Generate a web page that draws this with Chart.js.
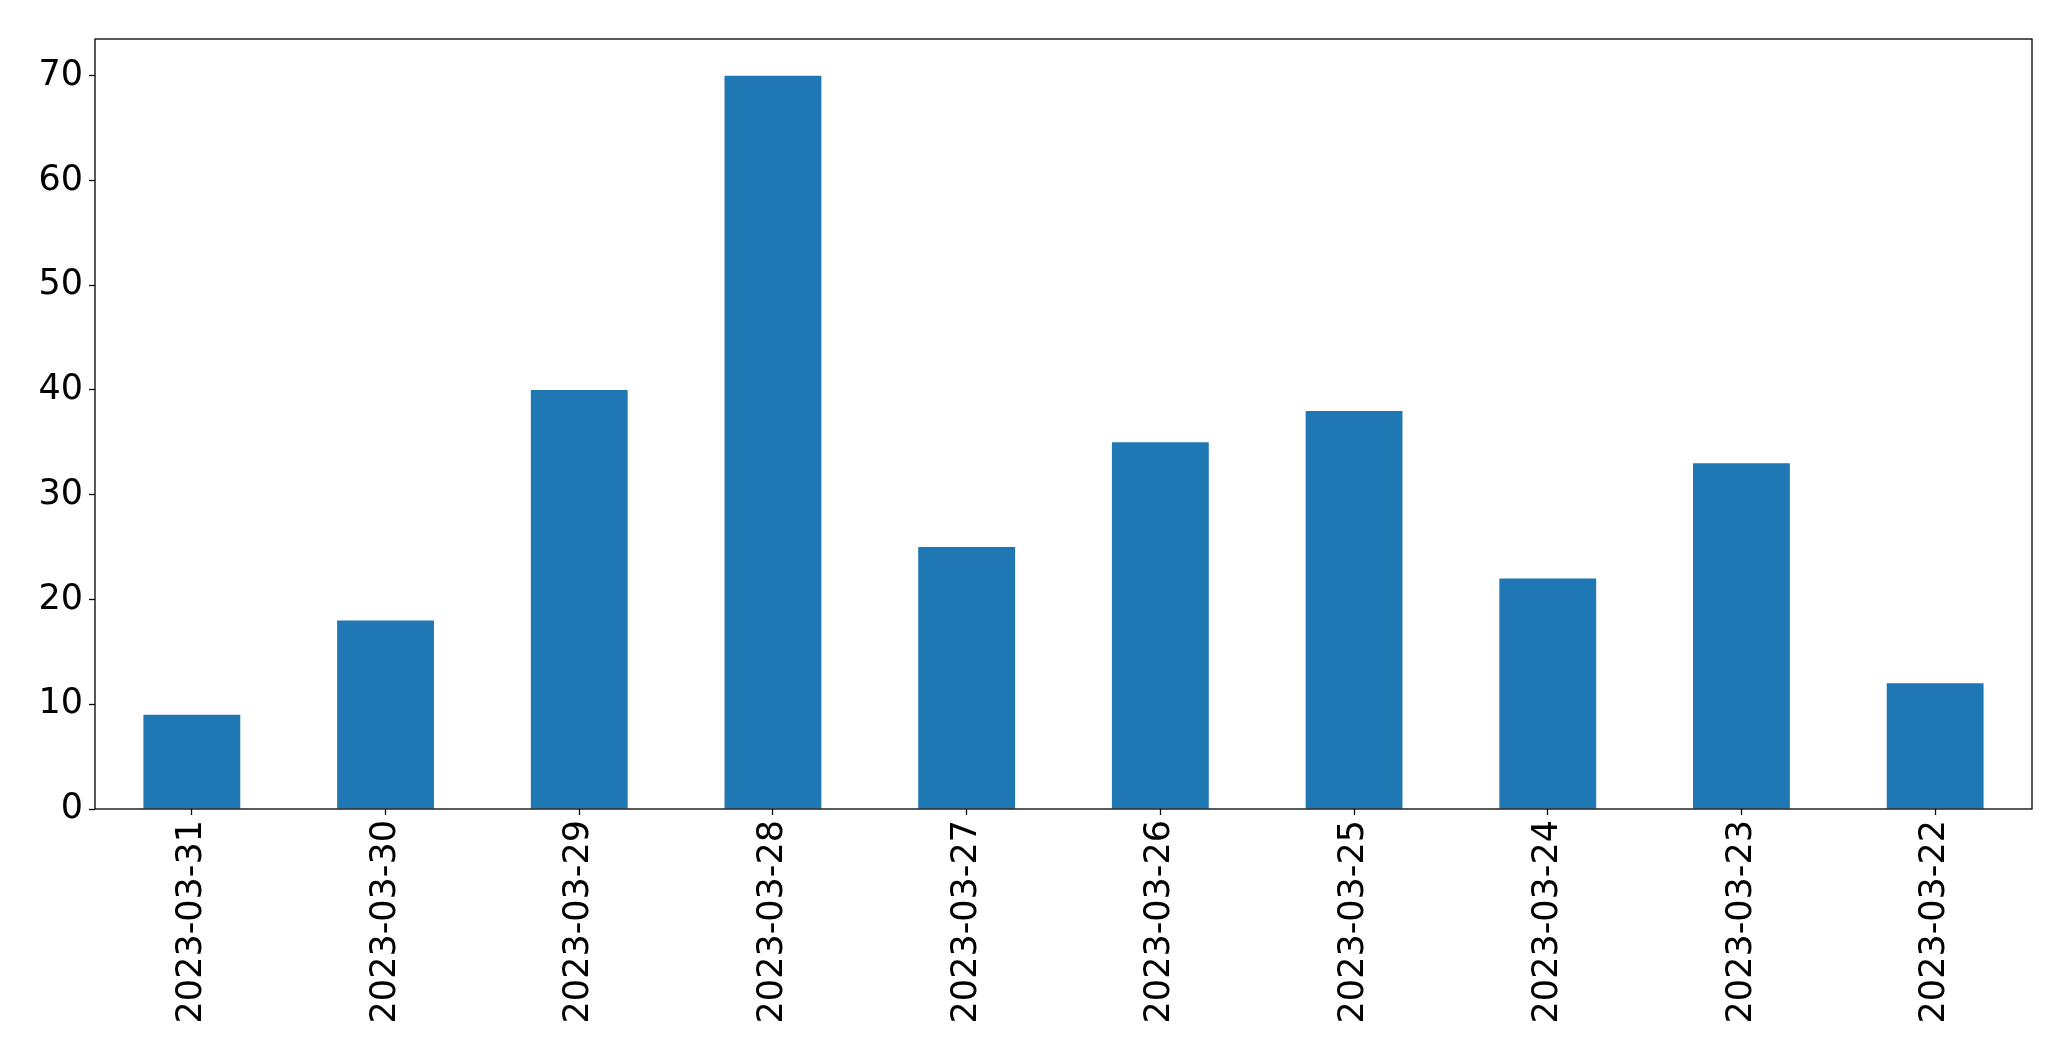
<!DOCTYPE html>
<html>
<head>
<meta charset="utf-8">
<script src="https://cdn.jsdelivr.net/npm/chart.js@4/dist/chart.umd.min.js"></script>
<style>
html,body{margin:0;padding:0;background:#fff;}
canvas{display:block;}
</style>
</head>
<body>
<canvas id="c" width="2071" height="1061"></canvas>
<script>
const categories = ["2023-03-31","2023-03-30","2023-03-29","2023-03-28","2023-03-27","2023-03-26","2023-03-25","2023-03-24","2023-03-23","2023-03-22"];
const values = [9, 18, 40, 70, 25, 35, 38, 22, 33, 12];
const yTicks = [0, 10, 20, 30, 40, 50, 60, 70];

const frame = {
  id: 'frame',
  afterDraw(chart) {
    const a = chart.chartArea, ctx = chart.ctx;
    ctx.save();
    ctx.strokeStyle = '#000';
    ctx.lineWidth = 1.3;
    ctx.strokeRect(a.left, a.top, a.right - a.left, a.bottom - a.top);
    ctx.restore();
  }
};

new Chart(document.getElementById('c'), {
  type: 'bar',
  data: {
    labels: categories,
    datasets: [{
      data: values,
      backgroundColor: '#1f77b4',
      borderWidth: 0,
      barPercentage: 0.5,
      categoryPercentage: 1.0
    }]
  },
  options: {
    responsive: false,
    devicePixelRatio: 1,
    animation: false,
    layout: { padding: { left: 0, top: 39, right: 39, bottom: 0 } },
    plugins: { legend: { display: false }, tooltip: { enabled: false } },
    scales: {
      x: {
        offset: true,
        grid: { offset: false, drawOnChartArea: false, drawTicks: true, tickLength: 6, tickColor: '#000', tickWidth: 1.3 },
        border: { display: false },
        ticks: {
          color: '#000',
          font: { family: 'DejaVu Sans', size: 35 },
          maxRotation: 90, minRotation: 90,
          padding: 5,
          autoSkip: false
        },
        afterFit(s) { s.height = 1061 - 809; }
      },
      y: {
        min: 0, max: 73.5,
        afterBuildTicks(s) { s.ticks = yTicks.map(v => ({ value: v })); },
        grid: { drawOnChartArea: false, drawTicks: true, tickLength: 6, tickColor: '#000', tickWidth: 1.3 },
        border: { display: false },
        ticks: {
          color: '#000',
          font: { family: 'DejaVu Sans', size: 35 },
          padding: 6
        },
        afterFit(s) { s.width = 95; }
      }
    }
  },
  plugins: [frame]
});
</script>
</body>
</html>
